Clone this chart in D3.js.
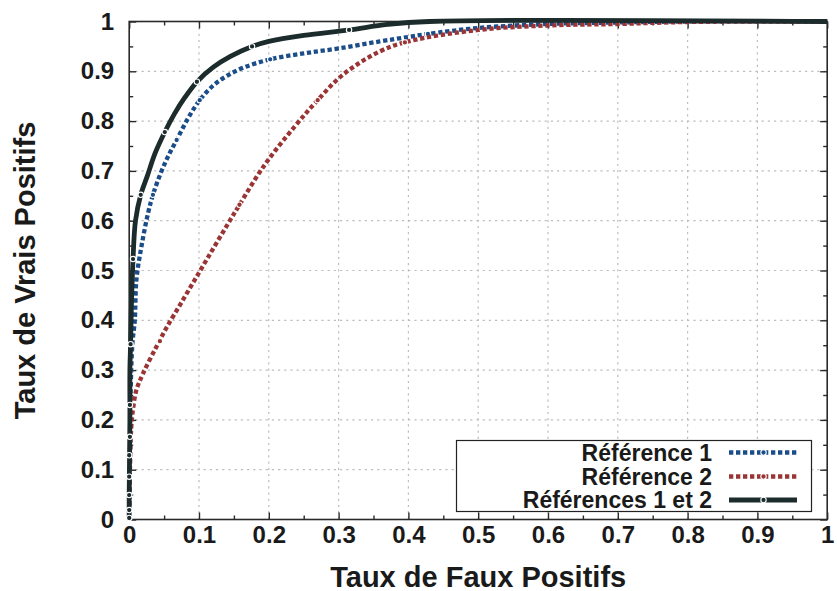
<!DOCTYPE html>
<html>
<head>
<meta charset="utf-8">
<script src="https://cdn.jsdelivr.net/npm/d3@7/dist/d3.min.js"></script>
<style>
html,body{margin:0;padding:0;background:#fff;}
svg{display:block;}
text{font-family:"Liberation Sans",Arial,Helvetica,sans-serif;font-weight:bold;fill:#1a1a1a;}
</style>
</head>
<body>
<svg id="chart" width="837" height="591"></svg>
<script>
// ---- data ----
const xTicks = [0,0.1,0.2,0.3,0.4,0.5,0.6,0.7,0.8,0.9,1];
const yTicks = [0,0.1,0.2,0.3,0.4,0.5,0.6,0.7,0.8,0.9,1];
const xTickLabels = ["0","0.1","0.2","0.3","0.4","0.5","0.6","0.7","0.8","0.9","1"];
const yTickLabels = ["0","0.1","0.2","0.3","0.4","0.5","0.6","0.7","0.8","0.9","1"];
const minorTicks = [0.05,0.15,0.25,0.35,0.45,0.55,0.65,0.75,0.85,0.95];
const xTitle = "Taux de Faux Positifs";
const yTitle = "Taux de Vrais Positifs";
const seriesNames = ["Référence 1","Référence 2","Références 1 et 2"];

// Référence 1 (blue) [FPR, TPR]
const ref1 = [[0,0],[0.001,0.1],[0.002,0.25],[0.0045,0.352],[0.008,0.4],[0.0103,0.481],[0.0175,0.548],
  [0.027,0.615],[0.034,0.652],[0.045,0.695],[0.056,0.73],[0.068,0.762],[0.084,0.805],[0.101,0.842],
  [0.12,0.871],[0.14,0.891],[0.165,0.908],[0.202,0.924],[0.25,0.936],[0.3,0.946],[0.359,0.96],
  [0.4,0.969],[0.428,0.975],[0.5,0.987],[0.6,0.995],[0.7,0.998],[0.8,1],[1,1]];
const ref1Markers = [[0.034,0.652],[0.068,0.762],[0.101,0.842],[0.202,0.924],[0.428,0.975]];

// Référence 2 (red)
const ref2 = [[0,0],[0.001,0.1],[0.003,0.186],[0.0055,0.222],[0.0103,0.26],[0.0198,0.293],[0.039,0.347],
  [0.053,0.384],[0.077,0.441],[0.101,0.498],[0.122,0.548],[0.142,0.595],[0.158,0.632],[0.194,0.712],
  [0.237,0.789],[0.268,0.839],[0.306,0.893],[0.359,0.94],[0.4,0.96],[0.5,0.983],[0.6,0.992],
  [0.7,0.995],[0.8,0.999],[1,1]];
const ref2Markers = [[0.044,0.358],[0.158,0.632],[0.27,0.842],[0.395,0.958]];

// Références 1 et 2 (black)
const ref12 = [[0,0],[0,0.05],[0.001,0.2],[0.001,0.3],[0.002,0.352],[0.003,0.42],[0.0055,0.523],
  [0.009,0.6],[0.0165,0.652],[0.026,0.69],[0.037,0.735],[0.051,0.778],[0.065,0.815],[0.08,0.848],
  [0.097,0.879],[0.12,0.908],[0.145,0.93],[0.176,0.95],[0.2,0.96],[0.25,0.972],[0.315,0.983],
  [0.37,0.994],[0.43,1],[1,1]];
const ref12Markers = [[0,0.003],[0,0.019],[0,0.049],[0,0.086],[0,0.129],[0.001,0.166],[0.001,0.23],
  [0.002,0.352],[0.0055,0.523],[0.0165,0.652],[0.051,0.778],[0.097,0.879],[0.176,0.95],[0.315,0.983]];

const colors = ["#1b4d8a","#9b3434","#1c2b2b"];

// ---- layout ----
const svg = d3.select("#chart");
const x = d3.scaleLinear().domain([0,1]).range([129.2,827.2]);
const y = d3.scaleLinear().domain([0,1]).range([519.5,21.5]);

// grid
const grid = svg.append("g");
grid.selectAll("line.gx").data(xTicks.slice(1,-1)).enter().append("line")
  .attr("x1",d=>x(d)).attr("x2",d=>x(d)).attr("y1",y(0)).attr("y2",y(1))
  .attr("stroke","#bdbdbd").attr("stroke-width",1.2).attr("stroke-dasharray","2.2,4");
grid.selectAll("line.gy").data(yTicks.slice(1,-1)).enter().append("line")
  .attr("y1",d=>y(d)).attr("y2",d=>y(d)).attr("x1",x(0)).attr("x2",x(1))
  .attr("stroke","#bdbdbd").attr("stroke-width",1.2).attr("stroke-dasharray","2.2,4");

// axes with inward ticks on all sides
function axisGroup(axis, transform){
  const g = svg.append("g").attr("transform",transform).call(axis);
  g.select(".domain").remove();
  g.selectAll("line").attr("stroke","#2a2a2a").attr("stroke-width",1.4);
  return g;
}
const fmtX = (d,i)=>xTickLabels[i];
const fmtY = (d,i)=>yTickLabels[i];
const bx = axisGroup(d3.axisBottom(x).tickValues(xTicks).tickSize(-7).tickPadding(16).tickFormat(fmtX),`translate(0,${y(0)})`);
bx.selectAll("text").attr("font-size",24).attr("dy","0.3em").attr("fill","#1a1a1a");
axisGroup(d3.axisBottom(x).tickValues(minorTicks).tickSize(-4).tickFormat(""),`translate(0,${y(0)})`);
axisGroup(d3.axisTop(x).tickValues(xTicks).tickSize(-7).tickFormat(""),`translate(0,${y(1)})`);
axisGroup(d3.axisTop(x).tickValues(minorTicks).tickSize(-4).tickFormat(""),`translate(0,${y(1)})`);
const ly = axisGroup(d3.axisLeft(y).tickValues(yTicks).tickSize(-7).tickPadding(15).tickFormat(fmtY),`translate(${x(0)},0)`);
ly.selectAll("text").attr("font-size",24).attr("fill","#1a1a1a");
axisGroup(d3.axisLeft(y).tickValues(minorTicks).tickSize(-4).tickFormat(""),`translate(${x(0)},0)`);
axisGroup(d3.axisRight(y).tickValues(yTicks).tickSize(-7).tickFormat(""),`translate(${x(1)},0)`);
axisGroup(d3.axisRight(y).tickValues(minorTicks).tickSize(-4).tickFormat(""),`translate(${x(1)},0)`);

// frame
svg.append("rect").attr("x",x(0)).attr("y",y(1)).attr("width",x(1)-x(0)).attr("height",y(0)-y(1))
  .attr("fill","none").attr("stroke","#2a2a2a").attr("stroke-width",1.6);

// curves
const lineGen = d3.line().x(d=>x(d[0])).y(d=>y(d[1])).curve(d3.curveCatmullRom.alpha(0.5));
const series = [
  {data:ref1, markers:ref1Markers, color:colors[0], dash:"4.3,2.7", width:4.3},
  {data:ref2, markers:ref2Markers, color:colors[1], dash:"4.3,2.7", width:4.3},
  {data:ref12, markers:ref12Markers, color:colors[2], dash:null, width:4.8}
];
series.forEach(s=>{
  svg.append("path").datum(s.data).attr("d",lineGen)
    .attr("fill","none").attr("stroke",s.color).attr("stroke-width",s.width)
    .attr("stroke-dasharray",s.dash).attr("stroke-linejoin","round");
  svg.append("g").selectAll("circle").data(s.markers).enter().append("circle")
    .attr("cx",d=>x(d[0])).attr("cy",d=>y(d[1])).attr("r",2.7)
    .attr("fill",s.color).attr("stroke","#fff").attr("stroke-width",1.1);
});

// legend
const lg = svg.append("g");
lg.append("rect").attr("x",456.5).attr("y",440.5).attr("width",355).attr("height",71)
  .attr("fill","#fff").attr("stroke","#222").attr("stroke-width",1.2);
const rowY = [452.5,476.5,500];
series.forEach((s,i)=>{
  lg.append("text").attr("x",712).attr("y",rowY[i]).attr("dy","0.35em").attr("text-anchor","end")
    .attr("font-size",23).text(seriesNames[i]);
  lg.append("line").attr("x1",729).attr("x2",797).attr("y1",rowY[i]).attr("y2",rowY[i])
    .attr("stroke",s.color).attr("stroke-width",s.width).attr("stroke-dasharray",s.dash);
  lg.append("circle").attr("cx",763.5).attr("cy",rowY[i]).attr("r",2.7)
    .attr("fill",s.color).attr("stroke","#fff").attr("stroke-width",1.1);
});

// titles
svg.append("text").attr("x",(x(0)+x(1))/2).attr("y",587).attr("text-anchor","middle")
  .attr("font-size",29).text(xTitle);
svg.append("text").attr("transform",`translate(35,${(y(0)+y(1))/2}) rotate(-90)`)
  .attr("text-anchor","middle").attr("font-size",29).text(yTitle);
</script>
</body>
</html>
